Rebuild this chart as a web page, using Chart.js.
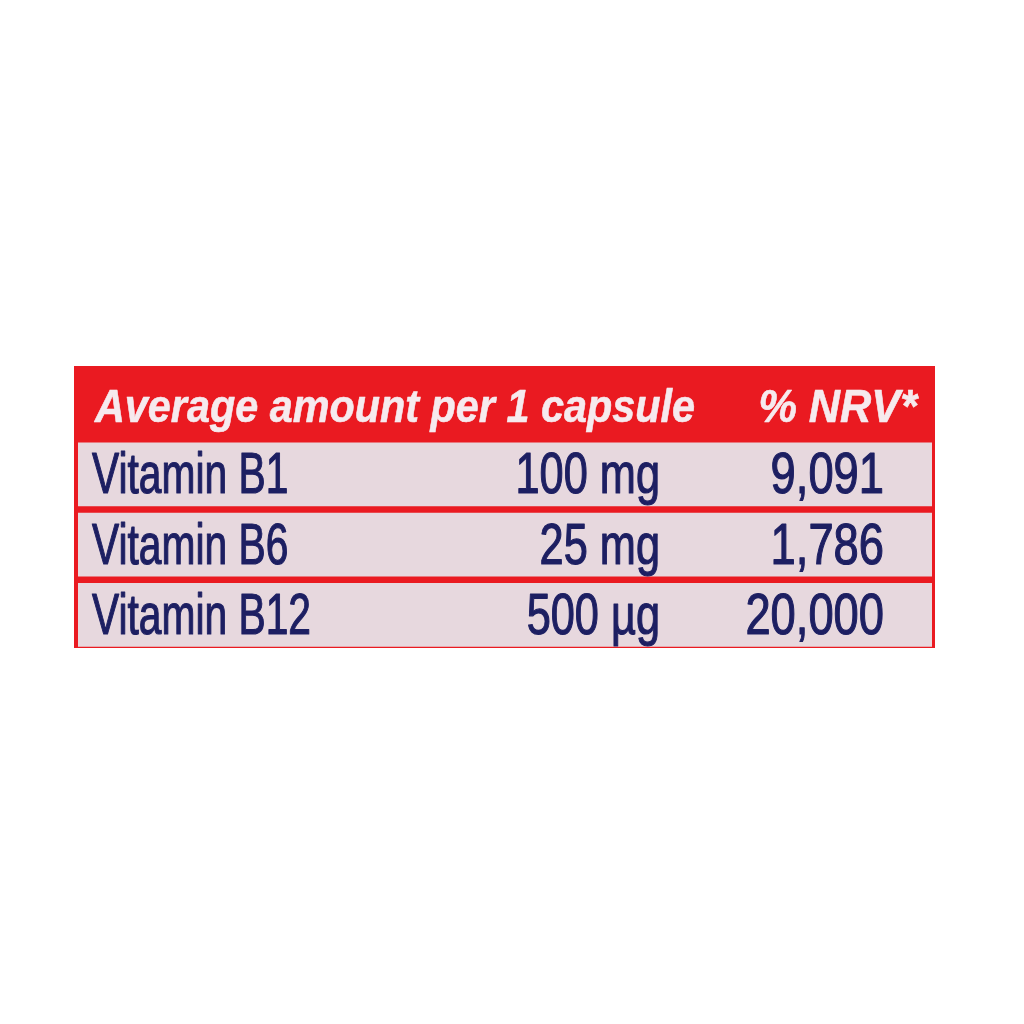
<!DOCTYPE html>
<html>
<head>
<meta charset="utf-8">
<script src="https://cdn.jsdelivr.net/npm/chart.js@4"></script>
<style>
  html, body { margin: 0; padding: 0; background: #ffffff; }
  #wrap { width: 1024px; height: 1024px; position: relative; }
</style>
</head>
<body>
<div id="wrap"><canvas id="c"></canvas></div>
<script>
// ---- data ----
const headerLabels = ['Average amount per 1 capsule', '% NRV*'];
const nutrients = ['Vitamin B1', 'Vitamin B6', 'Vitamin B12'];
const amounts = [100, 25, 500];
const units = ['mg', 'mg', 'µg'];
const nrvValues = [9091, 1786, 20000];

// ---- styling / layout ----
const RED = '#ea1a21';
const CELL = '#e7d8de';
const INK = '#1d1f62';
const HEAD_INK = '#f6eaee';
const FAMILY = '"Liberation Sans", Arial, sans-serif';

const rows = [headerLabels[0], ...nutrients];

function drawText(ctx, text, x, y, align, font, color, sx, stroke) {
  ctx.save();
  ctx.translate(x, y);
  ctx.scale(sx, 1);
  ctx.textAlign = align;
  ctx.textBaseline = 'alphabetic';
  ctx.font = font;
  ctx.fillStyle = color;
  ctx.fillText(text, 0, 0);
  if (stroke) {
    ctx.strokeStyle = color;
    ctx.lineWidth = stroke;
    ctx.lineJoin = 'round';
    ctx.strokeText(text, 0, 0);
  }
  ctx.restore();
}

const tablePlugin = {
  id: 'tableDecor',
  beforeDatasetsDraw(chart) {
    const { ctx, chartArea: a } = chart;
    ctx.save();
    ctx.fillStyle = RED;
    ctx.fillRect(a.left - 4, a.top - 3, (a.right - a.left) + 7, (a.bottom - a.top) + 1);
    ctx.restore();
  },
  afterDatasetsDraw(chart) {
    const { ctx } = chart;
    const xs = chart.scales.x, ys = chart.scales.y;
    const col = chart.options.plugins.tableDecor;
    // header
    const hy = ys.getPixelForValue(0) + 18;
    const hFont = 'italic bold 47px ' + FAMILY;
    drawText(ctx, headerLabels[0], xs.getPixelForValue(col.headLeft), hy, 'left', hFont, HEAD_INK, 0.88, 0.6);
    drawText(ctx, headerLabels[1], xs.getPixelForValue(col.headRight), hy, 'right', hFont, HEAD_INK, 0.92, 0.6);
    // body
    const bFont = '57px ' + FAMILY;
    nutrients.forEach((n, i) => {
      const y = ys.getPixelForValue(i + 1) + 19;
      drawText(ctx, n, xs.getPixelForValue(col.nameLeft), y, 'left', bFont, INK, 0.715, 1.2);
      drawText(ctx, amounts[i] + ' ' + units[i], xs.getPixelForValue(col.amountRight), y, 'right', bFont, INK, 0.76, 1.2);
      drawText(ctx, nrvValues[i].toLocaleString('en-US'), xs.getPixelForValue(col.nrvRight), y, 'right', bFont, INK, 0.795, 1.2);
    });
  }
};

new Chart(document.getElementById('c'), {
  type: 'bar',
  data: {
    labels: rows,
    datasets: [{
      data: rows.map((r, i) => i === 0 ? null : [0, 1]),
      backgroundColor: CELL,
      borderWidth: 0,
      barPercentage: 0.905,
      categoryPercentage: 1.0
    }]
  },
  options: {
    indexAxis: 'y',
    responsive: true,
    maintainAspectRatio: false,
    animation: false,
    events: [],
    layout: { padding: { left: 78, right: 92, top: 369, bottom: 374 } },
    scales: {
      x: { type: 'linear', min: 0, max: 1, display: false },
      y: { type: 'category', display: false, offset: true }
    },
    plugins: {
      legend: { display: false },
      tooltip: { enabled: false },
      title: { display: false },
      tableDecor: {
        headLeft: 0.0199, headRight: 0.9824,
        nameLeft: 0.0164, amountRight: 0.6815, nrvRight: 0.9438
      }
    }
  },
  plugins: [tablePlugin]
});
</script>
</body>
</html>
